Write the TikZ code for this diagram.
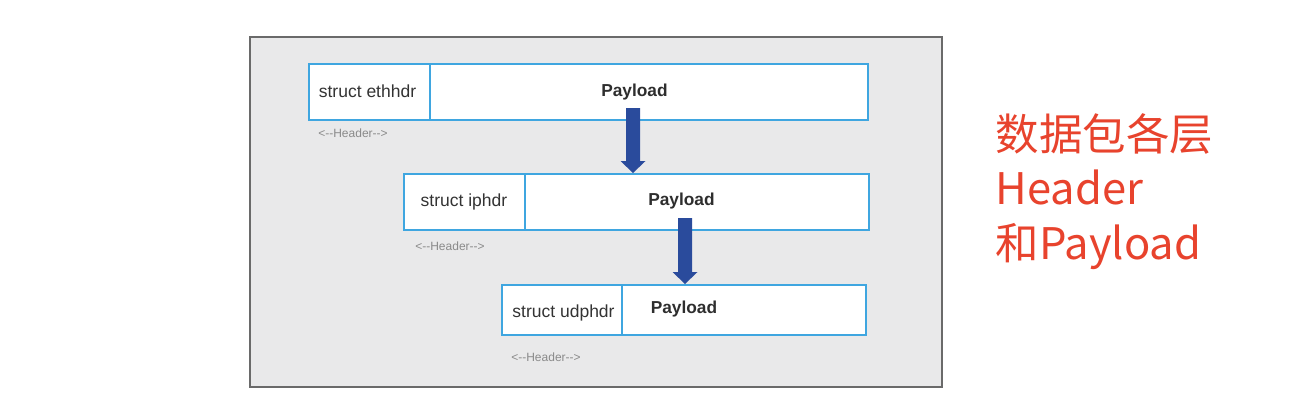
\documentclass[tikz,border=0pt]{standalone}
\usepackage{fontspec}
\setmainfont{Liberation Sans}
\newfontfamily\cjk{Noto Sans CJK SC}
\usetikzlibrary{arrows.meta}
\definecolor{panelgray}{HTML}{E9E9EA}
\definecolor{panelborder}{HTML}{6A6A6A}
\definecolor{boxblue}{HTML}{3FA6E0}
\definecolor{arrowblue}{HTML}{2A4B9C}
\definecolor{redtxt}{HTML}{E8432D}
\definecolor{hdrgray}{HTML}{8A8A8A}
\definecolor{txtgray}{HTML}{333333}
\begin{document}
\begin{tikzpicture}[x=1pt,y=-1pt,
  plbox/.style={draw=boxblue,line width=2.4pt,fill=white},
  divider/.style={draw=boxblue,line width=2.4pt},
  lbl/.style={font=\fontsize{17.5}{20}\selectfont,text=txtgray},
  pl/.style={font=\fontsize{17.3}{20}\selectfont\bfseries,text=txtgray!90!black},
  hlbl/.style={font=\fontsize{12}{14}\selectfont,text=hdrgray},
  bigarrow/.style={draw=none,fill=arrowblue},
  redlbl/.style={font=\cjk\fontsize{43.5}{55}\selectfont,text=redtxt,anchor=base west}
]
\useasboundingbox (0,0) rectangle (1316,400);
\fill[white] (0,0) rectangle (1316,400);
\draw[panelborder,fill=panelgray,line width=1.3pt] (250,37) rectangle (942,387);

% box 1
\draw[plbox] (309,64) rectangle (868,120);
\draw[divider] (430,64) -- (430,120);
\node[lbl] (h1) at (367.5,91) {struct ethhdr};
\node[pl] (p1) at (634.5,92) {Payload};
\node[hlbl] (l1) at (353,133) {<{-}{-}Header{-}{-}>};

% box 2
\draw[plbox] (404,174) rectangle (869,230);
\draw[divider] (525,174) -- (525,230);
\node[lbl] (h2) at (464,202) {struct iphdr};
\node[pl] (p2) at (681.5,201.5) {Payload};
\node[hlbl] (l2) at (450,246) {<{-}{-}Header{-}{-}>};

% box 3
\draw[plbox] (502,285) rectangle (866,335);
\draw[divider] (622,285) -- (622,335);
\node[lbl] (h3) at (563.5,312.5) {struct udphdr};
\node[pl] (p3) at (684,309) {Payload};
\node[hlbl] (l3) at (546,357.5) {<{-}{-}Header{-}{-}>};

% arrows
\fill[bigarrow] (626,108) -- (640,108) -- (640,161) -- (645.5,161) -- (633,173) -- (620.5,161) -- (626,161) -- cycle;
\fill[bigarrow] (678,218) -- (692,218) -- (692,272) -- (697.5,272) -- (685,284) -- (672.5,272) -- (678,272) -- cycle;

% red text
\node[redlbl] (r1) at (992,150) {数据包各层};
\node[redlbl] (r2) at (992,204) {Header};
\node[redlbl] (r3) at (992,259) {和Payload};
\end{tikzpicture}
\end{document}
